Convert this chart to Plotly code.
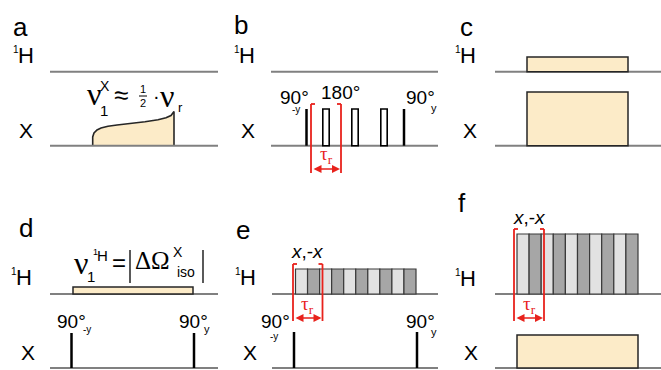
import plotly.graph_objects as go

# ---------------- data (diagram units = pixels of the 661x370 layout) ----------------
panel_letters = ["a", "b", "c", "d", "e", "f"]
letter_x = [20, 241, 466, 26, 243, 462]
letter_y = [27, 25, 27, 228, 230, 203]

# channel baselines per panel
base_x0 = [50, 271, 495, 50, 272, 495]
base_x1 = [218, 438, 661, 218, 438, 661]
base_yH = [71.7, 71.7, 71.7, 294, 294, 294]
base_yX = [145.7, 145.7, 145.7, 368, 368, 368]
h_label_x = [25.5, 246.5, 468, 23.5, 247.5, 468]
h_label_y = [55, 55, 55, 277, 277, 278]
x_label_x = [26, 248, 470, 28, 250, 471]
x_label_y = [130, 130, 130, 352, 352, 352]

# panel a: adiabatic shaped pulse on X (outline points)
a_shape_x = [92.7, 92.7, 94, 97, 101, 108, 117, 130, 145, 158, 166, 171, 173.5, 174, 174]
a_shape_y = [145.7, 137, 133, 130, 128, 126.3, 125, 123.6, 121.8, 119.8, 117.8, 115.5, 113, 111.5, 145.7]

# panel b: hard pulses (lines) and 180 pulses (hollow rects)
b_line_x = [306.5, 404]
b_pulse_top = 109
b_rect_x0 = [322.8, 351.8, 380.8]
b_rect_w = 6.4

# panel c: CW irradiation blocks
c_rect_x = (527, 628)
c_H_top = 57
c_X_top = 92

# panel d
d_H_rect = (73, 193, 287)
d_line_x = [71.5, 194]
d_pulse_top = 333
d_abs_x = [130, 203]
d_abs_y = (250, 283)

# panel e: alternating x,-x blocks
e_x0, e_x1, e_top = 295.5, 416, 269
e_line_x = [294, 417]
e_pulse_top = 332
n_blocks = 10

# panel f
f_x0, f_x1, f_top = 517, 638, 234
f_X_rect = (517, 638, 335)

# tau_r brackets: (x0, x1, top, bottom, arrow_y, label_y)
brackets = [(311, 341, 104, 173, 169, 155),
            (293, 322.5, 264, 321, 318, 305),
            (514, 544, 229, 321, 318, 305)]

PEACH = "#fcebc8"
EDGE = "#262626"
GRAY = "#808080"
RED = "#e8221c"
LIGHT = "#e2e2e2"
DARK = "#a6a6a6"
SANS = "Liberation Sans, Arial, sans-serif"
SERIF = "Liberation Serif, Times New Roman, serif"

fig = go.Figure()
shapes = []
ann = []


def text(x, y, s, size, color="black", family=SANS, xa="center", ya="middle"):
    ann.append(dict(x=x, y=y, xref="x", yref="y", text=s, showarrow=False,
                    font=dict(size=size, color=color, family=family),
                    xanchor=xa, yanchor=ya))


def line(x0, y0, x1, y1, color, width):
    shapes.append(dict(type="line", x0=x0, y0=y0, x1=x1, y1=y1, xref="x", yref="y",
                       line=dict(color=color, width=width)))


def rect(x0, y0, x1, y1, fill, color=EDGE, width=1.5):
    shapes.append(dict(type="rect", x0=x0, y0=y0, x1=x1, y1=y1, xref="x", yref="y",
                       fillcolor=fill, line=dict(color=color, width=width)))


# baselines and labels
for i in range(6):
    line(base_x0[i], base_yH[i], base_x1[i], base_yH[i], GRAY, 2)
    line(base_x0[i], base_yX[i], base_x1[i], base_yX[i], GRAY, 2)
    text(letter_x[i], letter_y[i], panel_letters[i], 26)
    text(h_label_x[i] - 10, h_label_y[i] - 6, "1", 10)
    text(h_label_x[i], h_label_y[i], "H", 22)
    text(x_label_x[i], x_label_y[i], "X", 21)

# panel a shaped pulse
fig.add_trace(go.Scatter(x=a_shape_x, y=a_shape_y, mode="lines", fill="toself",
                         fillcolor=PEACH, line=dict(color=EDGE, width=1.6),
                         hoverinfo="skip", showlegend=False))
# formula a
text(94, 94, "ν", 32, family=SERIF)
text(104, 110, "1", 15)
text(105, 86, "X", 14)
text(121, 95, "≈", 26)
text(143, 89, "1", 11)
text(143, 103, "2", 11)
line(139, 96, 147, 96, "black", 1)
text(156, 96, "·", 20)
text(167, 96, "ν", 32, family=SERIF)
text(180, 107, "r", 13)

# panel b
for xl in b_line_x:
    line(xl, b_pulse_top, xl, base_yX[1], "black", 2.5)
for x0 in b_rect_x0:
    rect(x0, b_pulse_top, x0 + b_rect_w, base_yX[1], "white", "black", 1.6)
text(294, 97, "90°", 19)
text(296, 109, "-y", 10)
text(340, 92, "180°", 19)
text(420, 97, "90°", 19)
text(434, 108, "y", 11)

# panel c
rect(c_rect_x[0], c_H_top, c_rect_x[1], base_yH[2], PEACH)
rect(c_rect_x[0], c_X_top, c_rect_x[1], base_yX[2], PEACH)

# panel d
rect(d_H_rect[0], d_H_rect[2], d_H_rect[1], base_yH[3], PEACH)
for xl in d_line_x:
    line(xl, d_pulse_top, xl, base_yX[3], "black", 2.5)
text(71, 321, "90°", 19)
text(87, 329, "-y", 10)
text(193, 321, "90°", 19)
text(207, 329, "y", 11)
# formula d
text(81, 263, "ν", 32, family=SERIF)
text(91, 276, "1", 15)
text(95, 252, "1", 9)
text(102, 255, "H", 15)
text(119, 262, "=", 24)
for xa in d_abs_x:
    line(xa, d_abs_y[0], xa, d_abs_y[1], "black", 1.3)
text(152, 260, "ΔΩ", 25, family=SERIF)
text(178, 252, "X", 14)
text(186, 272, "iso", 14)

# panel e blocks
w = (e_x1 - e_x0) / n_blocks
for k in range(n_blocks):
    rect(e_x0 + k * w, e_top, e_x0 + (k + 1) * w, base_yH[4], LIGHT if k % 2 == 0 else DARK, "#3a3a3a", 1.2)
for xl in e_line_x:
    line(xl, e_pulse_top, xl, base_yX[4], "black", 2.5)
text(307, 251, "<i>x</i>,-<i>x</i>", 19)
text(275, 321, "90°", 19)
text(274, 336, "-y", 10)
text(420, 321, "90°", 19)
text(434, 332, "y", 11)

# panel f blocks
w = (f_x1 - f_x0) / n_blocks
for k in range(n_blocks):
    rect(f_x0 + k * w, f_top, f_x0 + (k + 1) * w, base_yH[5], LIGHT if k % 2 == 0 else DARK, "#3a3a3a", 1.2)
rect(f_X_rect[0], f_X_rect[2], f_X_rect[1], base_yX[5], PEACH)
text(529, 217, "<i>x</i>,-<i>x</i>", 19)

# tau_r brackets
for (x0, x1, top, bot, ay, ly) in brackets:
    line(x0, top, x0, bot, RED, 1.8)
    line(x1, top, x1, bot, RED, 1.8)
    line(x0, top, x0 + 4, top, RED, 1.8)
    line(x1, top, x1 - 4, top, RED, 1.8)
    ann.append(dict(x=x1 - 1, y=ay, ax=x0 + 1, ay=ay, xref="x", yref="y", axref="x", ayref="y",
                    text="", showarrow=True, arrowhead=2, arrowside="end+start",
                    arrowsize=1, arrowwidth=1.6, arrowcolor=RED))
    text((x0 + x1) / 2, ly, "τ<sub>r</sub>", 19, color=RED, family=SERIF)

fig.update_layout(
    width=661, height=370, margin=dict(l=0, r=0, t=0, b=0),
    paper_bgcolor="white", plot_bgcolor="white",
    xaxis=dict(range=[0, 661], visible=False, fixedrange=True),
    yaxis=dict(range=[370, 0], visible=False, fixedrange=True),
    shapes=shapes, annotations=ann, showlegend=False,
)
fig.write_html("out.html", config={"displayModeBar": False},
               post_script="document.body.style.margin='0px';document.body.style.overflow='hidden';")
